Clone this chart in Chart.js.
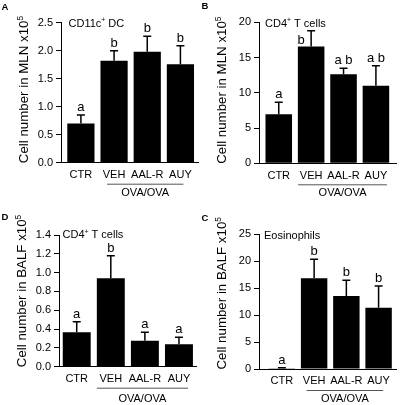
<!DOCTYPE html>
<html>
<head>
<meta charset="utf-8">
<script src="https://cdn.jsdelivr.net/npm/chart.js@4"></script>
<style>
  body { margin: 0; background: #fff; }
  #wrap { position: relative; width: 400px; height: 405px; overflow: hidden; }
  .panel { position: absolute; }
</style>
</head>
<body>
<div id="wrap">
  <div class="panel" style="left:0;top:0"><canvas id="chartA" width="200" height="200"></canvas></div>
  <div class="panel" style="left:200px;top:0"><canvas id="chartB" width="200" height="200"></canvas></div>
  <div class="panel" style="left:0;top:200px"><canvas id="chartD" width="200" height="205"></canvas></div>
  <div class="panel" style="left:200px;top:200px"><canvas id="chartC" width="200" height="205"></canvas></div>
</div>
<script>
// Data
const groups = ['CTR', 'VEH', 'AAL-R', 'AUY'];

const dcMln = [0.70, 1.82, 1.98, 1.76];
const dcMlnErr = [0.15, 0.18, 0.28, 0.33];
const dcMlnSig = ['a', 'b', 'b', 'b'];
const dcMlnTicks = [0, 0.5, 1.0, 1.5, 2.0, 2.5];

const cd4Mln = [6.95, 16.55, 12.62, 11.0];
const cd4MlnErr = [1.7, 2.25, 0.85, 2.85];
const cd4MlnSig = ['a', 'b', 'a b', 'a b'];
const cd4MlnTicks = [0, 5, 10, 15, 20];

const cd4Balf = [0.365, 0.94, 0.277, 0.238];
const cd4BalfErr = [0.114, 0.24, 0.088, 0.074];
const cd4BalfSig = ['a', 'b', 'a', 'a'];
const cd4BalfTicks = [0, 0.2, 0.4, 0.6, 0.8, 1.0, 1.2, 1.4];

const eosBalf = [0.15, 16.83, 13.55, 11.39];
const eosBalfErr = [0.1, 3.53, 2.91, 4.02];
const eosBalfSig = ['a', 'b', 'b', 'b'];
const eosBalfTicks = [0, 5, 10, 15, 20, 25];

const FONT = '"Liberation Sans", Arial, sans-serif';

// Panels (layout only)
const panels = [
  { id: 'chartA', tag: 'A', box: [0, 0, 200, 200], plot: [61, 22.7, 198, 162.7], xRange: [-0.6, 3.53],
    values: dcMln, errs: dcMlnErr, sig: dcMlnSig, ticks: dcMlnTicks, dec: 1,
    yTitle: 'Cell number in MLN x10', inset: [['CD11c'], ['+', 1], [' DC']], insetPos: [68.5, 26.5],
    tagPos: [1.5, 10], line: [-7, 3], textDy: 33.5, sigAt: [] },
  { id: 'chartB', tag: 'B', box: [200, 0, 200, 200], plot: [259, 22.3, 396, 163.3], xRange: [-0.61, 3.62],
    values: cd4Mln, errs: cd4MlnErr, sig: cd4MlnSig, ticks: cd4MlnTicks, dec: 0,
    yTitle: 'Cell number in MLN x10', inset: [['CD4'], ['+', 1], [' T cells']], insetPos: [265, 26.5],
    tagPos: [201.5, 8.5], line: [-13, 11], textDy: 33, sigAt: [null, -10] },
  { id: 'chartD', tag: 'D', box: [0, 200, 200, 205], plot: [59, 235, 196, 366.7], xRange: [-0.52, 3.5],
    values: cd4Balf, errs: cd4BalfErr, sig: cd4BalfSig, ticks: cd4BalfTicks, dec: 1,
    yTitle: 'Cell number in BALF x10', inset: [['CD4'], ['+', 1], [' T cells']], insetPos: [62.5, 238],
    tagPos: [1.5, 220], line: [-14, 9], textDy: 35.5, sigAt: [] },
  { id: 'chartC', tag: 'C', box: [200, 200, 200, 205], plot: [259, 234.3, 396, 369], xRange: [-0.71, 3.54],
    values: eosBalf, errs: eosBalfErr, sig: eosBalfSig, ticks: eosBalfTicks, dec: 0,
    yTitle: 'Cell number in BALF x10', inset: [['Eosinophils']], insetPos: [264, 238.5],
    tagPos: [201.5, 220.5], line: [-7.5, 4.6], textDy: 33, sigAt: [] }
];

function drawParts(ctx, parts, x, y, size) {
  parts.forEach(([t, sup]) => {
    ctx.font = (sup ? size * 0.62 : size) + 'px ' + FONT;
    ctx.fillText(t, x, sup ? y - size * 0.38 : y);
    x += ctx.measureText(t).width;
  });
}

function makeDecor(p) {
  const ox = p.box[0], oy = p.box[1];
  return {
    id: 'decor',
    afterDatasetsDraw(chart) {
      const ctx = chart.ctx;
      const xs = chart.scales.x, ys = chart.scales.y;
      const yb = ys.getPixelForValue(0);
      ctx.save();
      ctx.fillStyle = '#000';
      ctx.strokeStyle = '#000';

      // error bars + significance letters + group labels
      p.values.forEach((v, i) => {
        const x = xs.getPixelForValue(i);
        const yBar = ys.getPixelForValue(v);
        const yTop = ys.getPixelForValue(v + p.errs[i]);
        ctx.lineWidth = 1.5;
        ctx.beginPath();
        ctx.moveTo(x, yBar);
        ctx.lineTo(x, yTop);
        ctx.moveTo(x - 4, yTop);
        ctx.lineTo(x + 4, yTop);
        ctx.stroke();
        ctx.font = '13px ' + FONT;
        ctx.textAlign = 'center';
        ctx.textBaseline = 'alphabetic';
        const dx = p.sigAt[i];
        if (dx != null) ctx.fillText(p.sig[i], x + dx, yBar - 3);
        else ctx.fillText(p.sig[i], x, yTop - 4);
        ctx.font = '11px ' + FONT;
        ctx.fillText(groups[i], x, yb + 15.3);
      });

      // panel tag
      ctx.textAlign = 'left';
      ctx.font = 'bold 9.5px ' + FONT;
      ctx.fillText(p.tag, p.tagPos[0] - ox, p.tagPos[1] - oy);

      // inset title
      drawParts(ctx, p.inset, p.insetPos[0] - ox, p.insetPos[1] - oy, 11);

      // y title (rotated)
      ctx.save();
      ctx.translate(p.plot[0] - 33 - ox, p.plot[3] + 0.5 - oy);
      ctx.rotate(-Math.PI / 2);
      drawParts(ctx, [[p.yTitle], ['5', 1]], 0, 0, 13.3);
      ctx.restore();

      // OVA/OVA bracket
      const x1 = xs.getPixelForValue(1) + p.line[0];
      const x2 = xs.getPixelForValue(3) + p.line[1];
      ctx.strokeStyle = '#555';
      ctx.lineWidth = 1;
      ctx.beginPath();
      ctx.moveTo(x1, yb + 21.5);
      ctx.lineTo(x2, yb + 21.5);
      ctx.stroke();
      ctx.font = '11px ' + FONT;
      ctx.textAlign = 'center';
      ctx.fillText('OVA/OVA', (x1 + x2) / 2, yb + p.textDy);
      ctx.restore();
    }
  };
}

panels.forEach(p => {
  const [bl, bt, bw, bh] = p.box;
  const [l, t, r, b] = p.plot;
  const yw = 30, xh = 20;
  new Chart(document.getElementById(p.id), {
    type: 'bar',
    data: {
      datasets: [{
        data: p.values.map((v, i) => ({ x: i, y: v })),
        backgroundColor: '#000',
        borderWidth: 0,
        barPercentage: 0.82,
        categoryPercentage: 1
      }]
    },
    options: {
      responsive: false,
      animation: false,
      devicePixelRatio: 1,
      layout: { padding: { left: l - bl - yw, top: t - bt, right: bl + bw - r, bottom: bt + bh - b - xh } },
      plugins: { legend: { display: false }, tooltip: { enabled: false } },
      scales: {
        x: {
          type: 'linear',
          offset: false,
          bounds: 'data',
          min: p.xRange[0], max: p.xRange[1],
          afterBuildTicks: s => { s.ticks = groups.map((g, i) => ({ value: i })); },
          afterFit: s => { s.height = xh; },
          grid: { display: false, drawTicks: false },
          border: { color: '#000', width: 1 },
          ticks: { display: false }
        },
        y: {
          min: 0, max: p.ticks[p.ticks.length - 1],
          afterBuildTicks: s => { s.ticks = p.ticks.map(v => ({ value: v })); },
          afterFit: s => { s.width = yw; },
          grid: { drawOnChartArea: false, tickLength: 5, color: '#000' },
          border: { color: '#000', width: 1 },
          ticks: { callback: v => v.toFixed(p.dec), padding: 3, color: '#000', font: { family: FONT, size: 11 } }
        }
      }
    },
    plugins: [makeDecor(p)]
  });
});
</script>
</body>
</html>
